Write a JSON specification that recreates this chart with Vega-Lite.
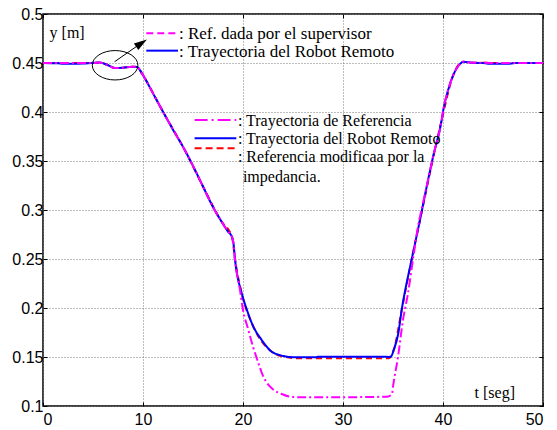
{
  "$schema": "https://vega.github.io/schema/vega-lite/v6.json",
  "width": 500,
  "height": 392,
  "autosize": {"type": "none"},
  "padding": {"left": 43, "top": 14, "right": 14, "bottom": 24},
  "background": "white",
  "config": {
    "view": {"stroke": "black", "strokeWidth": 1.5},
    "axis": {
      "domain": false,
      "grid": true,
      "gridColor": "#7a7a7a",
      "gridDash": [1, 2],
      "gridWidth": 1,
      "tickColor": "black",
      "tickSize": -4,
      "tickWidth": 1,
      "labelColor": "black",
      "labelFont": "Liberation Sans",
      "labelFontSize": 16,
      "title": null
    }
  },
  "datasets": {
    "curves": [
      {"t": 0, "y": 0.45, "s": "ref"},
      {"t": 5.0, "y": 0.45, "s": "ref"},
      {"t": 5.7, "y": 0.4505, "s": "ref"},
      {"t": 6.4, "y": 0.4482, "s": "ref"},
      {"t": 7.2, "y": 0.4448, "s": "ref"},
      {"t": 8.0, "y": 0.4452, "s": "ref"},
      {"t": 8.9, "y": 0.4462, "s": "ref"},
      {"t": 9.4, "y": 0.446, "s": "ref"},
      {"t": 9.8, "y": 0.441, "s": "ref"},
      {"t": 10.0, "y": 0.4377, "s": "ref"},
      {"t": 11.0, "y": 0.419, "s": "ref"},
      {"t": 12.0, "y": 0.4003, "s": "ref"},
      {"t": 13.0, "y": 0.382, "s": "ref"},
      {"t": 14.0, "y": 0.3645, "s": "ref"},
      {"t": 15.0, "y": 0.345, "s": "ref"},
      {"t": 16.0, "y": 0.324, "s": "ref"},
      {"t": 17.0, "y": 0.303, "s": "ref"},
      {"t": 17.8, "y": 0.289, "s": "ref"},
      {"t": 18.5, "y": 0.278, "s": "ref"},
      {"t": 18.9, "y": 0.2725, "s": "ref"},
      {"t": 19.05, "y": 0.266, "s": "ref"},
      {"t": 19.2, "y": 0.2497, "s": "ref"},
      {"t": 19.7, "y": 0.2184, "s": "ref"},
      {"t": 20.0, "y": 0.198, "s": "ref"},
      {"t": 20.5, "y": 0.179, "s": "ref"},
      {"t": 21.0, "y": 0.1606, "s": "ref"},
      {"t": 21.5, "y": 0.145, "s": "ref"},
      {"t": 21.9, "y": 0.1333, "s": "ref"},
      {"t": 22.3, "y": 0.125, "s": "ref"},
      {"t": 22.7, "y": 0.1197, "s": "ref"},
      {"t": 23.2, "y": 0.1155, "s": "ref"},
      {"t": 23.7, "y": 0.113, "s": "ref"},
      {"t": 24.7, "y": 0.1095, "s": "ref"},
      {"t": 25.7, "y": 0.109, "s": "ref"},
      {"t": 30.0, "y": 0.109, "s": "ref"},
      {"t": 34.4, "y": 0.1095, "s": "ref"},
      {"t": 34.9, "y": 0.112, "s": "ref"},
      {"t": 35.0, "y": 0.1197, "s": "ref"},
      {"t": 35.5, "y": 0.15, "s": "ref"},
      {"t": 36.0, "y": 0.1878, "s": "ref"},
      {"t": 36.5, "y": 0.215, "s": "ref"},
      {"t": 37.0, "y": 0.2497, "s": "ref"},
      {"t": 37.5, "y": 0.283, "s": "ref"},
      {"t": 38.0, "y": 0.307, "s": "ref"},
      {"t": 38.5, "y": 0.3305, "s": "ref"},
      {"t": 39.0, "y": 0.354, "s": "ref"},
      {"t": 39.87, "y": 0.3918, "s": "ref"},
      {"t": 40.03, "y": 0.402, "s": "ref"},
      {"t": 40.5, "y": 0.422, "s": "ref"},
      {"t": 41.0, "y": 0.437, "s": "ref"},
      {"t": 41.37, "y": 0.4446, "s": "ref"},
      {"t": 41.7, "y": 0.449, "s": "ref"},
      {"t": 42.03, "y": 0.4513, "s": "ref"},
      {"t": 42.5, "y": 0.4508, "s": "ref"},
      {"t": 43.0, "y": 0.4502, "s": "ref"},
      {"t": 50.0, "y": 0.45, "s": "ref"},

      {"t": 0, "y": 0.45, "s": "robot"},
      {"t": 1.5, "y": 0.4497, "s": "robot"},
      {"t": 2.0, "y": 0.4492, "s": "robot"},
      {"t": 3.0, "y": 0.4492, "s": "robot"},
      {"t": 4.0, "y": 0.4495, "s": "robot"},
      {"t": 5.0, "y": 0.4502, "s": "robot"},
      {"t": 5.7, "y": 0.4505, "s": "robot"},
      {"t": 6.4, "y": 0.4482, "s": "robot"},
      {"t": 7.2, "y": 0.4448, "s": "robot"},
      {"t": 8.0, "y": 0.4452, "s": "robot"},
      {"t": 8.9, "y": 0.4462, "s": "robot"},
      {"t": 9.4, "y": 0.446, "s": "robot"},
      {"t": 9.8, "y": 0.441, "s": "robot"},
      {"t": 10.0, "y": 0.4377, "s": "robot"},
      {"t": 11.0, "y": 0.419, "s": "robot"},
      {"t": 12.0, "y": 0.4003, "s": "robot"},
      {"t": 13.0, "y": 0.382, "s": "robot"},
      {"t": 14.0, "y": 0.3645, "s": "robot"},
      {"t": 15.0, "y": 0.345, "s": "robot"},
      {"t": 16.0, "y": 0.324, "s": "robot"},
      {"t": 17.0, "y": 0.303, "s": "robot"},
      {"t": 17.8, "y": 0.289, "s": "robot"},
      {"t": 18.5, "y": 0.278, "s": "robot"},
      {"t": 18.9, "y": 0.2725, "s": "robot"},
      {"t": 19.05, "y": 0.266, "s": "robot"},
      {"t": 19.2, "y": 0.2497, "s": "robot"},
      {"t": 19.87, "y": 0.215, "s": "robot"},
      {"t": 20.37, "y": 0.1987, "s": "robot"},
      {"t": 21.03, "y": 0.181, "s": "robot"},
      {"t": 21.87, "y": 0.1673, "s": "robot"},
      {"t": 22.87, "y": 0.1554, "s": "robot"},
      {"t": 24.03, "y": 0.151, "s": "robot"},
      {"t": 25.03, "y": 0.1497, "s": "robot"},
      {"t": 27.3, "y": 0.1497, "s": "robot"},
      {"t": 27.5, "y": 0.1503, "s": "robot"},
      {"t": 34.0, "y": 0.1503, "s": "robot"},
      {"t": 34.6, "y": 0.15, "s": "robot"},
      {"t": 34.8, "y": 0.1505, "s": "robot"},
      {"t": 35.1, "y": 0.158, "s": "robot"},
      {"t": 35.53, "y": 0.174, "s": "robot"},
      {"t": 35.87, "y": 0.198, "s": "robot"},
      {"t": 36.87, "y": 0.2497, "s": "robot"},
      {"t": 37.7, "y": 0.2898, "s": "robot"},
      {"t": 38.5, "y": 0.3305, "s": "robot"},
      {"t": 39.0, "y": 0.354, "s": "robot"},
      {"t": 39.87, "y": 0.3918, "s": "robot"},
      {"t": 40.03, "y": 0.402, "s": "robot"},
      {"t": 40.5, "y": 0.422, "s": "robot"},
      {"t": 41.0, "y": 0.437, "s": "robot"},
      {"t": 41.37, "y": 0.4446, "s": "robot"},
      {"t": 41.7, "y": 0.449, "s": "robot"},
      {"t": 42.03, "y": 0.4513, "s": "robot"},
      {"t": 43.0, "y": 0.4502, "s": "robot"},
      {"t": 44.0, "y": 0.45, "s": "robot"},
      {"t": 44.5, "y": 0.4492, "s": "robot"},
      {"t": 46.5, "y": 0.4492, "s": "robot"},
      {"t": 47.2, "y": 0.45, "s": "robot"},
      {"t": 50.0, "y": 0.45, "s": "robot"},

      {"t": 0, "y": 0.45, "s": "mod"},
      {"t": 5.0, "y": 0.45, "s": "mod"},
      {"t": 5.7, "y": 0.4505, "s": "mod"},
      {"t": 6.4, "y": 0.4482, "s": "mod"},
      {"t": 7.2, "y": 0.4448, "s": "mod"},
      {"t": 8.0, "y": 0.4452, "s": "mod"},
      {"t": 8.9, "y": 0.4462, "s": "mod"},
      {"t": 9.4, "y": 0.446, "s": "mod"},
      {"t": 9.8, "y": 0.441, "s": "mod"},
      {"t": 10.0, "y": 0.4377, "s": "mod"},
      {"t": 12.0, "y": 0.4003, "s": "mod"},
      {"t": 14.0, "y": 0.3645, "s": "mod"},
      {"t": 16.0, "y": 0.324, "s": "mod"},
      {"t": 17.8, "y": 0.289, "s": "mod"},
      {"t": 18.9, "y": 0.2725, "s": "mod"},
      {"t": 19.2, "y": 0.2497, "s": "mod"},
      {"t": 19.87, "y": 0.215, "s": "mod"},
      {"t": 21.03, "y": 0.181, "s": "mod"},
      {"t": 22.87, "y": 0.1554, "s": "mod"},
      {"t": 24.03, "y": 0.1505, "s": "mod"},
      {"t": 25.5, "y": 0.1488, "s": "mod"},
      {"t": 34.6, "y": 0.1488, "s": "mod"},
      {"t": 35.1, "y": 0.158, "s": "mod"},
      {"t": 35.87, "y": 0.198, "s": "mod"},
      {"t": 36.87, "y": 0.2497, "s": "mod"},
      {"t": 37.7, "y": 0.2898, "s": "mod"},
      {"t": 39.87, "y": 0.3918, "s": "mod"},
      {"t": 41.0, "y": 0.437, "s": "mod"},
      {"t": 42.03, "y": 0.4513, "s": "mod"},
      {"t": 43.0, "y": 0.4502, "s": "mod"},
      {"t": 50.0, "y": 0.45, "s": "mod"}
    ],
    "legendLines": [
      {"id": "sup", "x": 10.33, "x2": 13.5, "y": 0.4803},
      {"id": "rob1", "x": 10.33, "x2": 13.5, "y": 0.4626},
      {"id": "ref", "x": 15.16, "x2": 19.33, "y": 0.3919},
      {"id": "rob2", "x": 15.16, "x2": 19.33, "y": 0.3732},
      {"id": "mod", "x": 15.16, "x2": 19.33, "y": 0.363}
    ],
    "texts1": [
      {"x": 13.6, "y": 0.4796, "label": ": Ref. dada por el supervisor"},
      {"x": 13.6, "y": 0.4612, "label": ": Trayectoria del Robot Remoto"}
    ],
    "texts2": [
      {"x": 19.49, "y": 0.3912, "label": ": Trayectoria de Referencia"},
      {"x": 19.49, "y": 0.3722, "label": ": Trayectoria del Robot Remoto"},
      {"x": 19.49, "y": 0.3538, "label": ": Referencia modificaa por la"},
      {"x": 19.99, "y": 0.3334, "label": "impedancia."},
      {"x": 0.66, "y": 0.4806, "label": "y [m]"},
      {"x": 43.16, "y": 0.1134, "label": "t [seg]"}
    ],
    "ellipse": [{"x": 7.21, "y": 0.4477}],
    "arrow": [{"x": 7.16, "y": 0.4513, "x2": 9.9, "y2": 0.4708}],
    "head": [{"x": 9.85, "y": 0.4702}]
  },
  "resolve": {"axis": {"x": "independent", "y": "independent"}},
  "layer": [
    {
      "data": {"name": "curves"},
      "transform": [{"filter": "datum.s === 'mod'"}],
      "mark": {"type": "line", "color": "#ff0000", "strokeWidth": 2, "strokeDash": [6, 4], "interpolate": "monotone"},
      "encoding": {
        "x": {"field": "t", "type": "quantitative",
              "scale": {"domain": [0, 50], "nice": false, "zero": false},
              "axis": {"values": [0, 10, 20, 30, 40, 50], "labelPadding": 9, "orient": "bottom"}},
        "y": {"field": "y", "type": "quantitative",
              "scale": {"domain": [0.1, 0.5], "nice": false, "zero": false},
              "axis": {"values": [0.1, 0.15, 0.2, 0.25, 0.3, 0.35, 0.4, 0.45, 0.5], "format": ".2~f", "labelPadding": 4, "orient": "left"}},
        "order": {"field": "t"}
      }
    },
    {
      "data": {"name": "curves"},
      "transform": [{"filter": "datum.s === 'robot'"}],
      "mark": {"type": "line", "color": "#0000ff", "strokeWidth": 2, "interpolate": "monotone"},
      "encoding": {
        "x": {"field": "t", "type": "quantitative",
              "axis": {"values": [0, 10, 20, 30, 40, 50], "orient": "top", "labels": false, "grid": false}},
        "y": {"field": "y", "type": "quantitative",
              "axis": {"values": [0.1, 0.15, 0.2, 0.25, 0.3, 0.35, 0.4, 0.45, 0.5], "orient": "right", "labels": false, "grid": false}},
        "order": {"field": "t"}
      }
    },
    {
      "data": {"name": "curves"},
      "transform": [{"filter": "datum.s === 'ref'"}],
      "mark": {"type": "line", "color": "#ff00ff", "strokeWidth": 2, "strokeDash": [9, 3, 2, 3], "interpolate": "monotone"},
      "encoding": {
        "x": {"field": "t", "type": "quantitative", "axis": null},
        "y": {"field": "y", "type": "quantitative", "axis": null},
        "order": {"field": "t"}
      }
    },
    {
      "data": {"name": "legendLines"},
      "transform": [{"filter": "datum.id === 'sup'"}],
      "mark": {"type": "rule", "color": "#ff00ff", "strokeWidth": 2, "strokeDash": [7, 4]},
      "encoding": {
        "x": {"field": "x", "type": "quantitative", "axis": null},
        "x2": {"field": "x2"},
        "y": {"field": "y", "type": "quantitative", "axis": null}
      }
    },
    {
      "data": {"name": "legendLines"},
      "transform": [{"filter": "datum.id === 'rob1' || datum.id === 'rob2'"}],
      "mark": {"type": "rule", "color": "#0000ff", "strokeWidth": 2},
      "encoding": {
        "x": {"field": "x", "type": "quantitative", "axis": null},
        "x2": {"field": "x2"},
        "y": {"field": "y", "type": "quantitative", "axis": null}
      }
    },
    {
      "data": {"name": "legendLines"},
      "transform": [{"filter": "datum.id === 'ref'"}],
      "mark": {"type": "rule", "color": "#ff00ff", "strokeWidth": 2, "strokeDash": [13, 4, 2, 4]},
      "encoding": {
        "x": {"field": "x", "type": "quantitative", "axis": null},
        "x2": {"field": "x2"},
        "y": {"field": "y", "type": "quantitative", "axis": null}
      }
    },
    {
      "data": {"name": "legendLines"},
      "transform": [{"filter": "datum.id === 'mod'"}],
      "mark": {"type": "rule", "color": "#ff0000", "strokeWidth": 2, "strokeDash": [7, 4]},
      "encoding": {
        "x": {"field": "x", "type": "quantitative", "axis": null},
        "x2": {"field": "x2"},
        "y": {"field": "y", "type": "quantitative", "axis": null}
      }
    },
    {
      "data": {"name": "texts1"},
      "mark": {"type": "text", "align": "left", "baseline": "middle", "font": "Liberation Serif", "fontSize": 17, "color": "black"},
      "encoding": {
        "x": {"field": "x", "type": "quantitative", "axis": null},
        "y": {"field": "y", "type": "quantitative", "axis": null},
        "text": {"field": "label"}
      }
    },
    {
      "data": {"name": "texts2"},
      "mark": {"type": "text", "align": "left", "baseline": "middle", "font": "Liberation Serif", "fontSize": 16, "color": "black"},
      "encoding": {
        "x": {"field": "x", "type": "quantitative", "axis": null},
        "y": {"field": "y", "type": "quantitative", "axis": null},
        "text": {"field": "label"}
      }
    },
    {
      "data": {"name": "ellipse"},
      "mark": {"type": "point", "shape": "M-1,0A1,0.645 0 1,1 1,0A1,0.645 0 1,1 -1,0Z", "size": 2079, "filled": false, "stroke": "black", "strokeWidth": 1, "opacity": 1},
      "encoding": {
        "x": {"field": "x", "type": "quantitative", "axis": null},
        "y": {"field": "y", "type": "quantitative", "axis": null}
      }
    },
    {
      "data": {"name": "arrow"},
      "mark": {"type": "rule", "color": "black", "strokeWidth": 1},
      "encoding": {
        "x": {"field": "x", "type": "quantitative", "axis": null},
        "y": {"field": "y", "type": "quantitative", "axis": null},
        "x2": {"field": "x2"},
        "y2": {"field": "y2"}
      }
    },
    {
      "data": {"name": "head"},
      "mark": {"type": "point", "shape": "M0,-1L0.6,1L-0.6,1Z", "size": 170, "filled": true, "color": "black", "angle": 56, "opacity": 1},
      "encoding": {
        "x": {"field": "x", "type": "quantitative", "axis": null},
        "y": {"field": "y", "type": "quantitative", "axis": null}
      }
    }
  ]
}
